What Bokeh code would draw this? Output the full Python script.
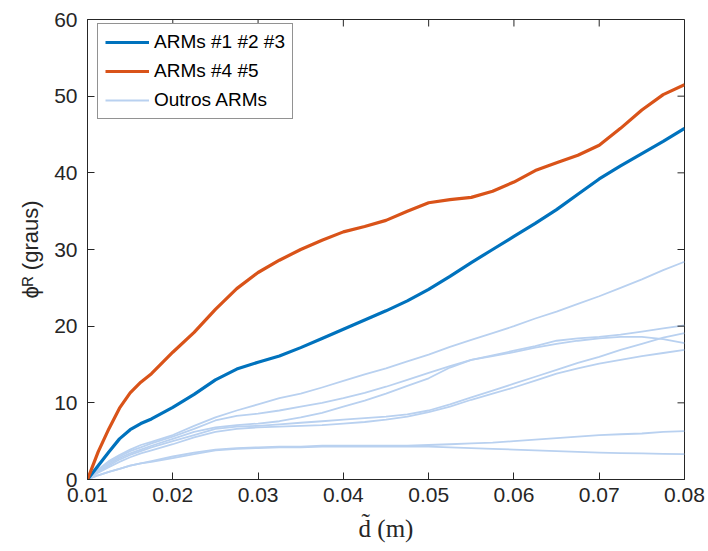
from bokeh.plotting import figure
from bokeh.models import (Range1d, FixedTicker, Legend, LegendItem,
                          CustomJSTickFormatter)
from bokeh.embed import file_html
from bokeh.resources import INLINE

# ---------------- data ----------------
d_tilde = [0.01000, 0.01125, 0.01250, 0.01375, 0.01500, 0.01625, 0.01750,
           0.0200, 0.0225, 0.0250, 0.0275,
           0.0300, 0.0325, 0.0350, 0.0375, 0.0400, 0.0425, 0.0450, 0.0475,
           0.0500, 0.0525, 0.0550, 0.0575, 0.0600, 0.0625, 0.0650, 0.0675,
           0.0700, 0.0725, 0.0750, 0.0775, 0.0800]

arms_1_2_3 = [0.0, 1.8, 3.6, 5.3, 6.5, 7.3, 7.9,
              9.4, 11.1, 13.0, 14.4, 15.3, 16.1, 17.2,
              18.4, 19.6, 20.8, 22.0, 23.3, 24.8, 26.5, 28.3, 30.0, 31.7,
              33.4, 35.2, 37.2, 39.2, 40.9, 42.5, 44.1, 45.8]

arms_4_5 = [0.0, 3.6, 6.6, 9.3, 11.3, 12.7, 13.8,
            16.6, 19.2, 22.2, 24.9, 27.0, 28.6, 30.0,
            31.2, 32.3, 33.0, 33.8, 35.0, 36.1, 36.5, 36.8, 37.6, 38.8, 40.3,
            41.3, 42.3, 43.6, 45.8, 48.2, 50.2, 51.5]

outros_a = [0.0, 1.3, 2.4, 3.2, 3.9, 4.5, 4.9,
            5.8, 7.0, 8.1, 9.0, 9.8, 10.6, 11.2, 12.0,
            12.85, 13.7, 14.5, 15.4, 16.3, 17.3, 18.2, 19.1, 20.0, 21.0, 21.9,
            22.9, 23.9, 25.0, 26.1, 27.3, 28.4]
outros_b = [0.0, 1.2, 2.2, 3.0, 3.7, 4.2, 4.7,
            5.6, 6.6, 7.7, 8.3, 8.6, 9.0, 9.5, 10.0,
            10.6, 11.3, 12.1, 13.0, 13.9, 14.8, 15.6, 16.2, 16.8, 17.4, 18.1,
            18.4, 18.6, 18.9, 19.3, 19.7, 20.1]
outros_c = [0.0, 1.1, 2.0, 2.8, 3.4, 3.9, 4.4,
            5.3, 6.2, 6.8, 7.1, 7.3, 7.6, 8.1, 8.7,
            9.5, 10.3, 11.2, 12.2, 13.2, 14.6, 15.6, 16.1, 16.6, 17.2, 17.7,
            18.1, 18.4, 18.6, 18.6, 18.3, 17.8]
outros_d = [0.0, 1.0, 1.8, 2.6, 3.2, 3.7, 4.2,
            5.0, 5.8, 6.6, 6.9, 7.0, 7.2, 7.4, 7.6,
            7.8, 8.0, 8.2, 8.5, 9.0, 9.8, 10.7, 11.6, 12.5, 13.4, 14.3,
            15.2, 16.0, 16.9, 17.7, 18.5, 19.1]
outros_e = [0.0, 0.9, 1.6, 2.3, 2.9, 3.4, 3.8,
            4.6, 5.5, 6.2, 6.6, 6.8, 6.9, 7.0, 7.1,
            7.3, 7.5, 7.8, 8.2, 8.8, 9.5, 10.4, 11.2, 12.0, 12.9, 13.8,
            14.5, 15.1, 15.6, 16.1, 16.5, 16.9]
outros_f = [0.0, 0.55, 1.0, 1.4, 1.8, 2.1, 2.4,
            3.0, 3.5, 3.9, 4.1, 4.2, 4.3, 4.3, 4.4,
            4.4, 4.4, 4.4, 4.4, 4.5, 4.6, 4.7, 4.8, 5.0, 5.2, 5.4, 5.6,
            5.8, 5.9, 6.0, 6.2, 6.3]
outros_g = [0.0, 0.55, 1.0, 1.4, 1.8, 2.1, 2.3,
            2.8, 3.3, 3.8, 4.0, 4.1, 4.2, 4.2, 4.3,
            4.3, 4.3, 4.3, 4.3, 4.3, 4.2, 4.1, 4.0, 3.9, 3.8, 3.7, 3.6,
            3.5, 3.45, 3.4, 3.35, 3.3]
outros = [outros_a, outros_b, outros_c, outros_d, outros_e, outros_f, outros_g]

x_ticks = [0.01, 0.02, 0.03, 0.04, 0.05, 0.06, 0.07, 0.08]
y_ticks = [0, 10, 20, 30, 40, 50, 60]
x_min, x_max = 0.01, 0.08
y_min, y_max = 0, 60

legend_labels = ["ARMs #1 #2 #3", "ARMs #4 #5", "Outros ARMs"]
x_label = "d\u0303 (m)"
y_label = "\u03d5\u1d3f (graus)"

# ---------------- style ----------------
BLUE = "#0072BD"
ORANGE = "#D95319"
LIGHT = "#b9d1f0"
AX = "#262626"
SANS = "Liberation Sans"
FRAME_W, FRAME_H = 597, 460
TICK_PX = 7

p = figure(width=708, height=551, output_backend="svg", toolbar_location=None,
           x_range=Range1d(x_min, x_max), y_range=Range1d(y_min, y_max),
           min_border_left=87, min_border_right=24, min_border_top=19,
           min_border_bottom=72)
p.background_fill_color = "white"
p.border_fill_color = "white"
p.outline_line_color = AX
p.outline_line_width = 1
p.grid.visible = False

light_renderers = []
for ys in outros:
    r = p.line(d_tilde, ys, line_color=LIGHT, line_width=1.8, line_join="round")
    light_renderers.append(r)
r_blue = p.line(d_tilde, arms_1_2_3, line_color=BLUE, line_width=3.2,
                line_join="round")
r_orange = p.line(d_tilde, arms_4_5, line_color=ORANGE, line_width=3.2,
                  line_join="round")

# inward ticks on the top and right edges of the box (MATLAB "box on")
tick_dy = (y_max - y_min) * TICK_PX / FRAME_H
tick_dx = (x_max - x_min) * TICK_PX / FRAME_W
p.segment(x0=x_ticks, x1=x_ticks, y0=[y_max] * len(x_ticks),
          y1=[y_max - tick_dy] * len(x_ticks), line_color=AX, line_width=1)
p.segment(x0=[x_max] * len(y_ticks), x1=[x_max - tick_dx] * len(y_ticks),
          y0=y_ticks, y1=y_ticks, line_color=AX, line_width=1)

fmt_x = CustomJSTickFormatter(code="return tick.toFixed(2);")

def style_axis(ax):
    ax.axis_line_color = AX
    ax.axis_line_width = 1
    ax.major_tick_line_color = AX
    ax.major_tick_in = TICK_PX
    ax.major_tick_out = 0
    ax.minor_tick_line_color = None
    ax.major_label_text_font = SANS
    ax.major_label_text_color = AX
    ax.major_label_text_font_size = "21px"

xa = p.xaxis[0]
xa.ticker = FixedTicker(ticks=x_ticks)
xa.formatter = fmt_x
style_axis(xa)
xa.major_label_standoff = 8
xa.axis_label = x_label
xa.axis_label_text_font = "Liberation Serif"
xa.axis_label_text_font_style = "normal"
xa.axis_label_text_font_size = "25px"
xa.axis_label_text_color = AX
xa.axis_label_standoff = 10

ya = p.yaxis[0]
ya.ticker = FixedTicker(ticks=y_ticks)
style_axis(ya)
ya.major_label_standoff = 10
ya.axis_label = y_label
ya.axis_label_text_font = SANS
ya.axis_label_text_font_style = "normal"
ya.axis_label_text_font_size = "22px"
ya.axis_label_text_color = AX
ya.axis_label_standoff = 8

legend = Legend(items=[
    LegendItem(label=legend_labels[0], renderers=[r_blue]),
    LegendItem(label=legend_labels[1], renderers=[r_orange]),
    LegendItem(label=legend_labels[2], renderers=[light_renderers[0]]),
], location=(10, 360))
legend.label_text_font = SANS
legend.label_text_font_size = "19px"
legend.label_text_color = "black"
legend.glyph_width = 44
legend.glyph_height = 20
legend.label_height = 20
legend.label_standoff = 5
legend.spacing = 7
legend.padding = 7
legend.margin = 0
legend.border_line_color = AX
legend.border_line_width = 1
legend.background_fill_color = "white"
legend.background_fill_alpha = 1.0
p.add_layout(legend, "center")

open("out.html", "w").write(file_html(p, INLINE))
